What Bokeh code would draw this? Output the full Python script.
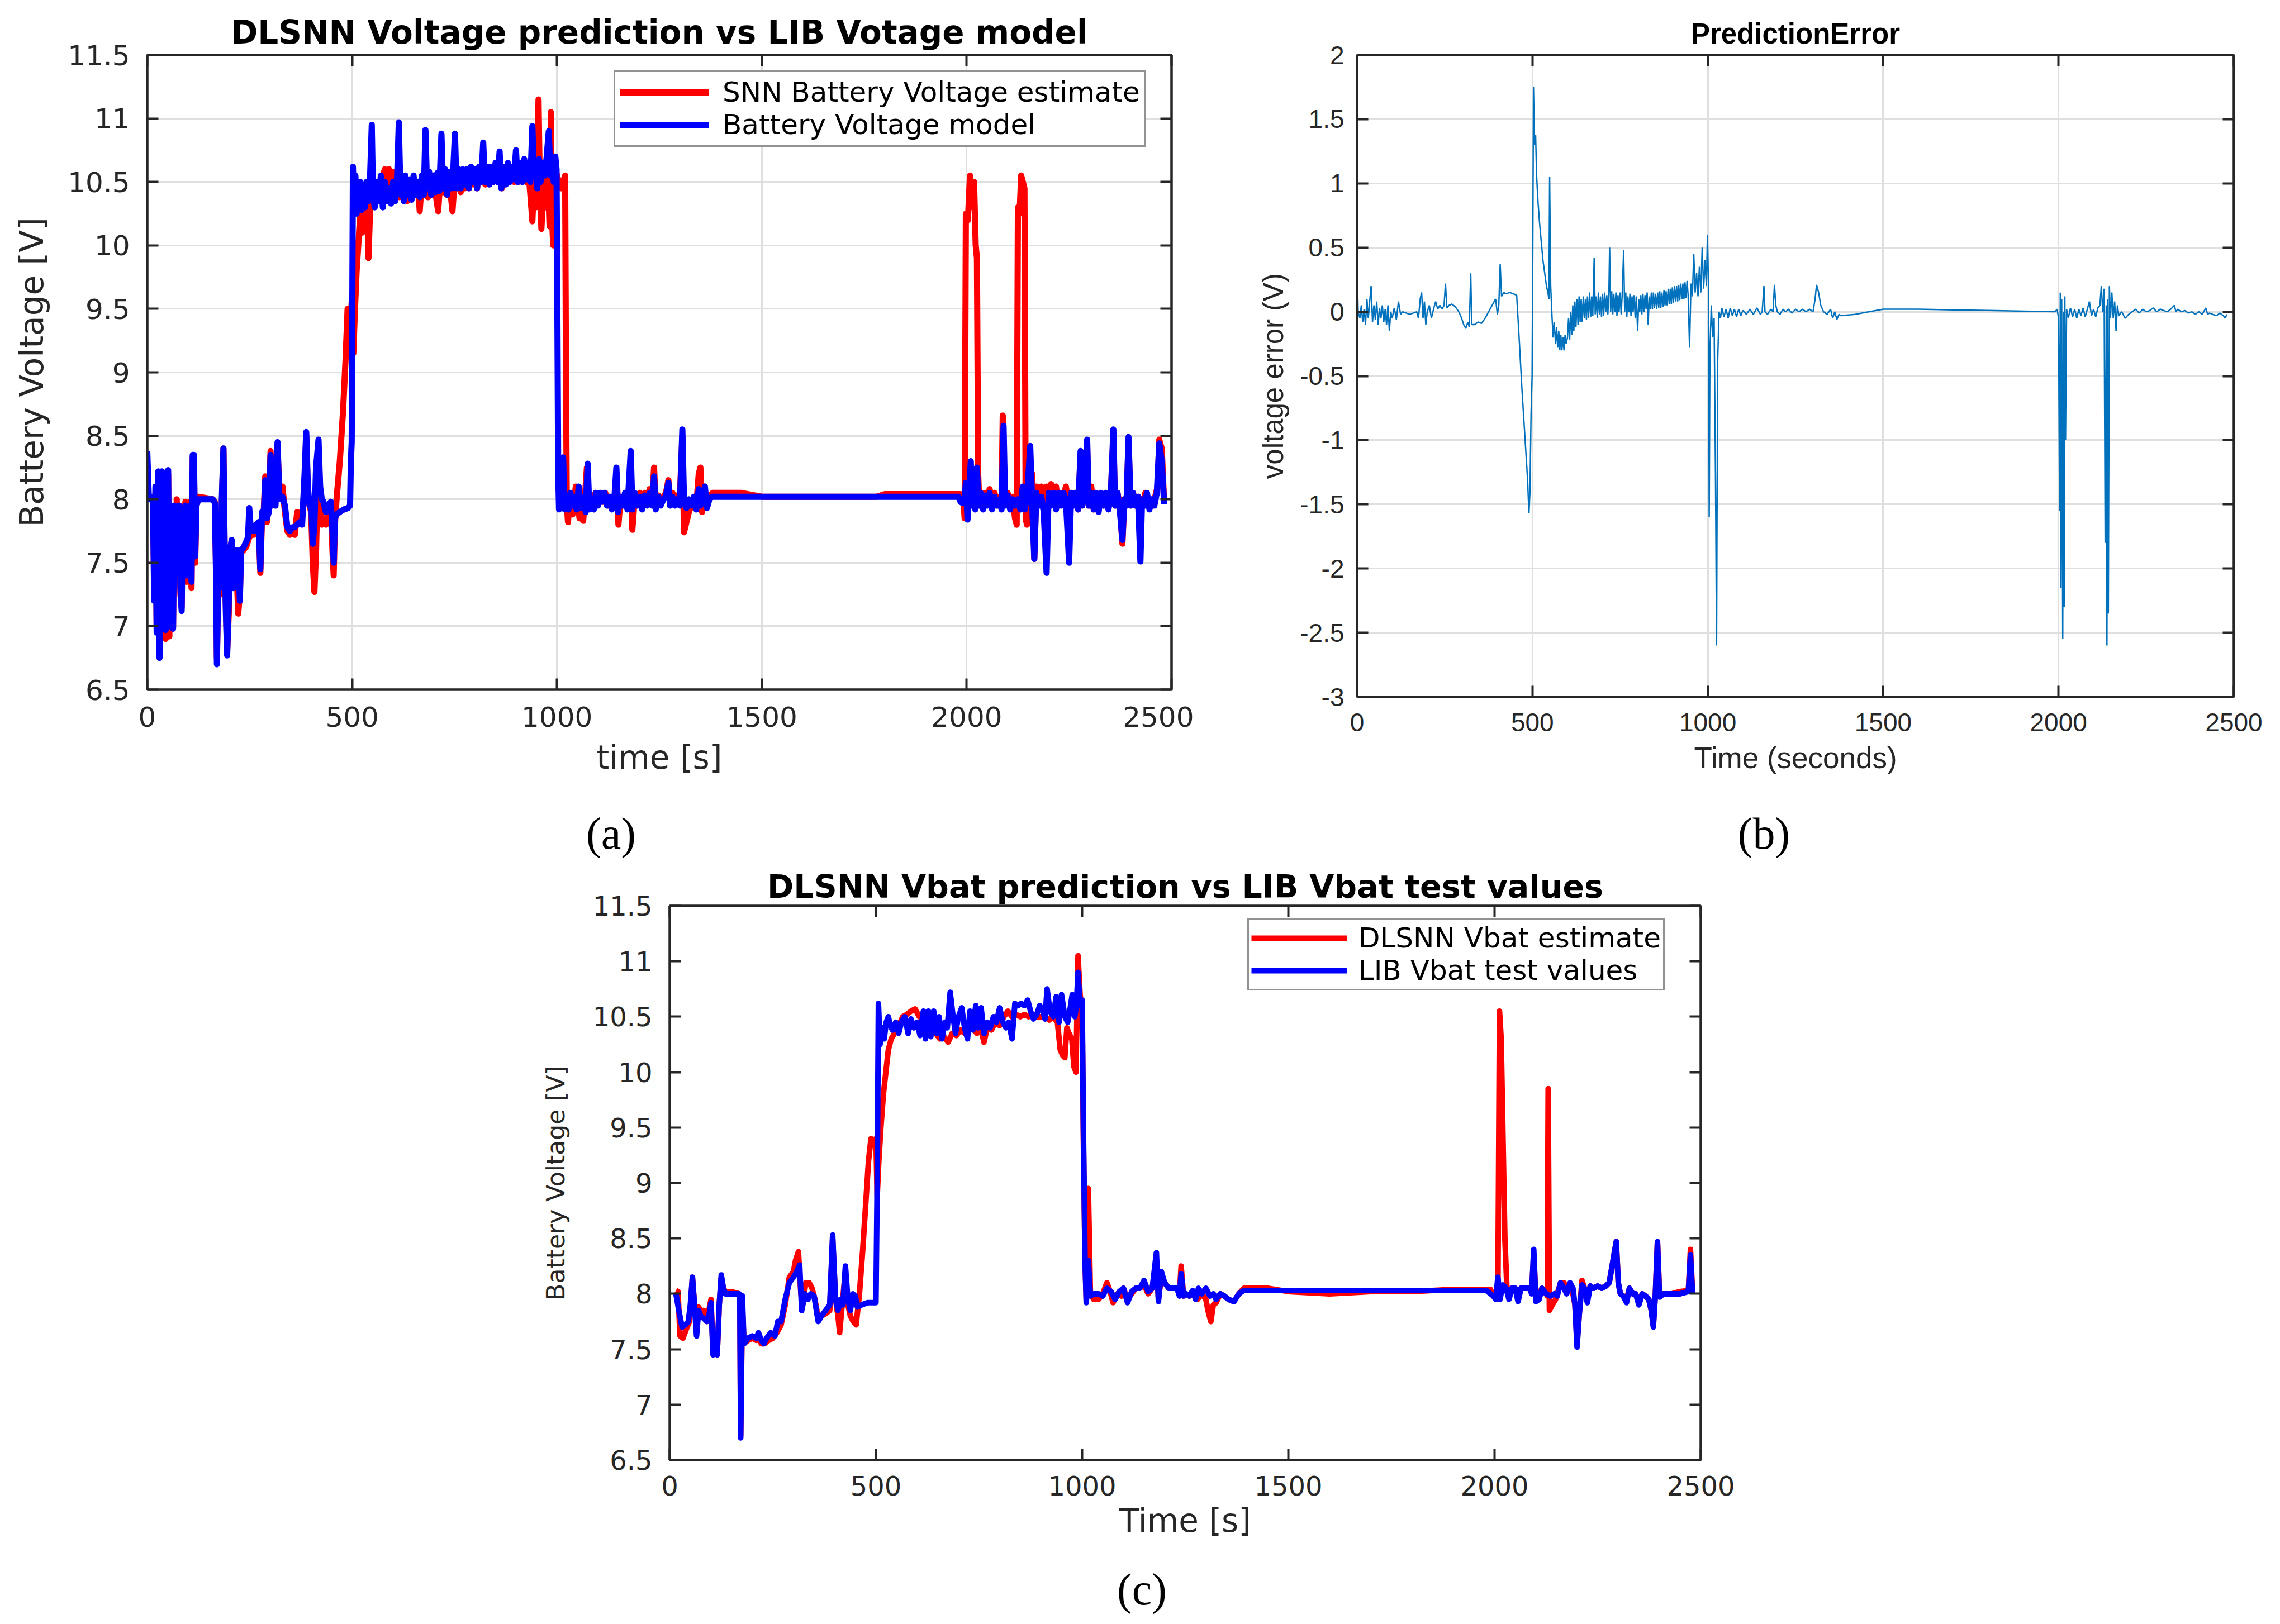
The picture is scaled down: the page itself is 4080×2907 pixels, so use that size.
from bokeh.plotting import figure
from bokeh.models import (FixedTicker, CustomJSTickFormatter, LinearAxis, Range1d,
                          Label, Legend, LegendItem, Spacer)
from bokeh.layouts import column, row
from bokeh.embed import file_html
from bokeh.resources import INLINE

# ---------------- data ----------------
X_TICKS = [0, 500, 1000, 1500, 2000, 2500]
Y_TICKS_V = [6.5, 7, 7.5, 8, 8.5, 9, 9.5, 10, 10.5, 11, 11.5]
Y_TICKS_E = [-3, -2.5, -2, -1.5, -1, -0.5, 0, 0.5, 1, 1.5, 2]

# (a) Battery Voltage model (blue)
a_mod_t = [0, 4, 10, 14, 17, 20, 23, 27, 30, 33, 36, 39, 42, 45, 48, 51, 54, 57, 60, 63, 66, 69, 72, 75, 78, 81, 84, 87, 90, 93, 96, 99, 102, 105, 108, 111, 114, 117, 120, 125, 160, 165, 168, 170, 174, 178, 182, 186, 189, 192, 195, 199, 203, 206, 210, 214, 218, 222, 226, 229, 235, 242, 246, 249, 253, 260, 266, 272, 276, 280, 284, 288, 292, 297, 301, 305, 309, 313, 318, 322, 326, 330, 336, 342, 348, 354, 360, 366, 372, 378, 384, 388, 392, 396, 400, 404, 408, 412, 418, 422, 426, 430, 436, 442, 448, 452, 455, 458, 462, 470, 480, 490, 495, 497, 499, 502, 505, 508, 511, 514, 517, 520, 523, 527, 531, 535, 540, 544, 548, 551, 555, 560, 565, 570, 575, 580, 585, 590, 595, 600, 605, 610, 614, 618, 622, 626, 630, 635, 640, 645, 650, 655, 660, 665, 670, 675, 679, 683, 688, 693, 698, 703, 708, 713, 718, 722, 727, 732, 737, 742, 747, 751, 755, 760, 765, 770, 775, 780, 785, 790, 795, 800, 805, 810, 815, 820, 824, 830, 835, 840, 845, 850, 855, 860, 864, 870, 875, 880, 885, 890, 895, 900, 904, 910, 915, 920, 925, 930, 935, 940, 944, 948, 952, 956, 960, 965, 970, 975, 980, 984, 988, 992, 996, 999, 1001, 1003, 1005, 1008, 1011, 1015, 1019, 1023, 1028, 1033, 1038, 1043, 1048, 1053, 1057, 1062, 1066, 1070, 1075, 1079, 1084, 1090, 1095, 1100, 1105, 1110, 1116, 1122, 1128, 1134, 1140, 1145, 1149, 1155, 1160, 1166, 1172, 1180, 1184, 1190, 1196, 1202, 1208, 1214, 1220, 1226, 1232, 1237, 1241, 1247, 1253, 1260, 1266, 1272, 1276, 1282, 1288, 1294, 1300, 1306, 1310, 1316, 1322, 1328, 1334, 1340, 1346, 1350, 1356, 1361, 1366, 1372, 1378, 1390, 1980, 1985, 1990, 1995, 1998, 2002, 2006, 2010, 2013, 2017, 2021, 2025, 2029, 2034, 2040, 2045, 2050, 2056, 2062, 2068, 2074, 2080, 2085, 2090, 2094, 2100, 2106, 2112, 2118, 2125, 2131, 2137, 2142, 2148, 2155, 2160, 2165, 2170, 2176, 2182, 2188, 2195, 2200, 2206, 2212, 2218, 2224, 2230, 2236, 2242, 2250, 2255, 2260, 2266, 2272, 2278, 2282, 2288, 2294, 2298, 2304, 2310, 2316, 2322, 2328, 2334, 2340, 2346, 2352, 2358, 2362, 2368, 2374, 2380, 2385, 2390, 2395, 2400, 2406, 2412, 2418, 2424, 2428, 2434, 2440, 2446, 2452, 2458, 2464, 2470, 2476, 2482]
a_mod_v = [8.38, 8.0, 8.02, 7.98, 7.2, 8.1, 6.95, 8.22, 6.75, 7.9, 8.22, 7.05, 8.2, 6.97, 7.8, 8.23, 7.0, 7.95, 7.2, 6.98, 7.95, 7.45, 7.9, 7.5, 7.95, 7.3, 7.12, 7.9, 7.55, 7.95, 7.4, 7.92, 7.5, 7.95, 7.35, 8.35, 8.35, 7.55, 7.95, 8.0, 8.0, 7.97, 7.4, 6.7, 7.5, 7.3, 8.0, 8.4, 7.6, 7.1, 6.77, 7.2, 7.62, 7.68, 7.3, 7.55, 7.6, 7.58, 7.2, 7.6, 7.62, 7.67, 7.7, 7.93, 7.75, 7.75, 7.8, 7.82, 7.45, 7.9, 7.85, 8.15, 7.85, 7.9, 8.35, 7.95, 8.2, 7.95, 8.45, 8.05, 8.0, 8.02, 7.95, 7.78, 7.75, 7.78, 7.78, 7.8, 7.82, 7.8, 8.2, 8.53, 8.1, 7.95, 8.0, 7.65, 7.8, 8.25, 8.47, 8.1, 8.0, 7.98, 7.9, 7.95, 7.98, 7.75, 7.5, 7.85, 7.88, 7.9, 7.92, 7.93, 7.95, 8.3, 8.45, 10.62, 10.3, 10.55, 10.25, 10.45, 10.3, 10.5, 10.28, 10.45, 10.3, 10.5, 10.35, 10.55, 10.95, 10.4, 10.3, 10.5, 10.35, 10.55, 10.3, 10.5, 10.35, 10.45, 10.33, 10.5, 10.35, 10.55, 10.97, 10.4, 10.5, 10.35, 10.55, 10.4, 10.52, 10.36, 10.55, 10.4, 10.5, 10.38, 10.55, 10.4, 10.91, 10.45, 10.58, 10.4, 10.55, 10.42, 10.57, 10.43, 10.88, 10.45, 10.6, 10.4, 10.58, 10.45, 10.6, 10.88, 10.45, 10.6, 10.45, 10.6, 10.48, 10.6, 10.45, 10.62, 10.5, 10.6, 10.45, 10.62, 10.5, 10.81, 10.5, 10.62, 10.48, 10.62, 10.5, 10.65, 10.5, 10.74, 10.45, 10.62, 10.48, 10.65, 10.5, 10.62, 10.52, 10.75, 10.5, 10.65, 10.5, 10.68, 10.52, 10.65, 10.5, 10.94, 10.55, 10.65, 10.45, 10.68, 10.5, 10.65, 10.55, 10.7, 10.9, 10.55, 10.68, 10.5, 10.7, 10.6, 9.5, 8.2, 7.92, 8.3, 7.95, 8.33, 7.92, 7.98, 7.92, 8.05, 7.95, 8.02, 7.92, 8.1, 7.93, 8.0, 8.02, 7.9, 8.28, 7.92, 8.0, 7.92, 8.05, 7.95, 8.05, 7.98, 8.05, 7.95, 8.02, 7.92, 8.0, 8.25, 7.9, 8.02, 7.95, 8.05, 7.92, 8.38, 7.92, 8.05, 7.95, 8.02, 7.92, 8.03, 7.95, 8.05, 7.95, 8.18, 7.92, 8.02, 7.95, 8.0, 8.03, 8.13, 7.95, 8.02, 7.95, 8.0, 7.95, 8.55, 8.0, 7.93, 8.0, 7.95, 8.02, 7.92, 8.08, 7.95, 8.0, 8.1, 7.93, 8.0, 8.02, 8.02, 8.02, 7.98, 7.97, 8.0, 8.13, 7.84, 8.05, 8.3, 7.95, 8.05, 7.92, 8.25, 7.95, 8.05, 7.92, 8.03, 7.95, 8.05, 7.92, 8.02, 7.95, 8.0, 7.92, 8.58, 7.95, 8.03, 7.92, 8.0, 7.95, 8.0, 7.92, 8.1, 7.92, 8.05, 8.42, 7.95, 7.53, 8.05, 7.95, 8.02, 7.9, 7.42, 8.05, 7.95, 8.05, 7.92, 8.05, 7.95, 8.05, 8.0, 7.5, 8.05, 7.95, 8.05, 7.92, 8.38, 7.95, 8.05, 8.47, 7.95, 8.05, 7.92, 8.05, 7.9, 8.05, 7.95, 8.05, 7.92, 8.05, 8.55, 7.95, 8.05, 7.9, 7.68, 8.0, 7.95, 8.49, 7.95, 8.05, 7.95, 8.02, 7.51, 8.0, 7.95, 8.05, 7.92, 8.0, 7.95, 8.05, 8.44, 8.3, 7.96]

# (a) SNN Battery Voltage estimate (red)
a_est_t = [0, 4, 10, 14, 17, 20, 23, 27, 30, 33, 36, 39, 42, 45, 48, 51, 54, 57, 60, 63, 66, 69, 72, 75, 78, 81, 84, 87, 90, 93, 96, 99, 102, 105, 108, 111, 114, 117, 120, 125, 160, 165, 168, 170, 174, 178, 182, 186, 189, 192, 195, 199, 203, 206, 210, 214, 218, 222, 226, 229, 235, 242, 246, 249, 253, 260, 266, 272, 276, 280, 284, 288, 292, 297, 301, 305, 309, 313, 318, 322, 326, 330, 336, 342, 348, 354, 360, 366, 372, 378, 384, 388, 392, 396, 400, 404, 408, 412, 418, 422, 426, 430, 436, 442, 448, 452, 455, 458, 462, 470, 478, 484, 489, 493, 497, 500, 503, 507, 511, 515, 520, 524, 528, 532, 536, 540, 544, 548, 552, 556, 560, 565, 570, 575, 580, 585, 590, 595, 600, 605, 610, 615, 620, 625, 630, 635, 640, 645, 650, 655, 660, 665, 670, 675, 680, 685, 690, 695, 700, 705, 710, 715, 720, 725, 730, 735, 740, 745, 750, 755, 760, 765, 770, 775, 780, 785, 790, 795, 800, 805, 810, 815, 820, 825, 830, 835, 840, 845, 850, 855, 860, 865, 870, 875, 880, 885, 890, 895, 900, 905, 910, 915, 920, 925, 930, 935, 940, 944, 948, 952, 955, 958, 962, 966, 970, 974, 978, 982, 985, 988, 991, 994, 997, 1000, 1005, 1010, 1015, 1020, 1022, 1024, 1027, 1030, 1034, 1038, 1042, 1046, 1050, 1055, 1060, 1064, 1068, 1073, 1078, 1083, 1088, 1094, 1100, 1106, 1112, 1118, 1124, 1130, 1136, 1142, 1146, 1150, 1155, 1162, 1168, 1174, 1180, 1184, 1190, 1196, 1202, 1208, 1214, 1220, 1226, 1232, 1237, 1241, 1247, 1253, 1260, 1266, 1272, 1276, 1282, 1288, 1294, 1300, 1306, 1310, 1316, 1322, 1328, 1334, 1340, 1346, 1350, 1354, 1360, 1366, 1372, 1380, 1450, 1500, 1780, 1800, 1985, 1992, 1995, 1998, 2003, 2008, 2012, 2015, 2018, 2022, 2025, 2028, 2031, 2035, 2040, 2045, 2050, 2056, 2062, 2068, 2074, 2080, 2085, 2088, 2093, 2100, 2106, 2112, 2118, 2122, 2125, 2129, 2133, 2137, 2141, 2144, 2147, 2152, 2157, 2160, 2165, 2170, 2176, 2182, 2188, 2195, 2200, 2206, 2212, 2218, 2224, 2230, 2236, 2242, 2250, 2255, 2260, 2266, 2272, 2278, 2282, 2288, 2294, 2298, 2304, 2310, 2316, 2322, 2328, 2334, 2340, 2346, 2352, 2358, 2362, 2368, 2374, 2380, 2385, 2390, 2395, 2400, 2406, 2412, 2418, 2424, 2430, 2436, 2442, 2448, 2454, 2460, 2466, 2470, 2476, 2482]
a_est_v = [8.02, 8.0, 8.02, 7.98, 7.3, 8.05, 7.0, 8.2, 6.8, 7.85, 8.2, 7.1, 8.15, 6.9, 7.75, 8.2, 6.92, 7.9, 7.1, 7.0, 7.9, 7.4, 8.0, 7.45, 7.95, 7.25, 7.15, 7.85, 7.5, 7.98, 7.35, 7.9, 7.45, 7.98, 7.3, 8.33, 8.3, 7.5, 7.95, 8.02, 8.0, 7.98, 7.45, 6.75, 7.45, 7.25, 7.95, 8.4, 7.55, 7.15, 6.8, 7.1, 7.55, 7.65, 7.35, 7.5, 7.45, 7.1, 7.25, 7.58, 7.6, 7.63, 7.67, 7.7, 7.72, 7.72, 7.75, 7.8, 7.42, 7.85, 7.88, 8.18, 7.82, 8.05, 8.38, 8.0, 8.3, 8.05, 8.4, 8.1, 8.08, 8.1, 7.9, 7.75, 7.72, 7.75, 7.72, 7.9, 7.85, 7.85, 8.1, 8.5, 8.05, 7.95, 7.9, 7.5, 7.27, 7.6, 8.4, 8.0, 7.8, 7.85, 7.8, 7.9, 7.95, 7.6, 7.4, 7.8, 8.0, 8.3, 8.7, 9.1, 9.5, 9.3, 9.45, 9.6, 9.15, 9.5, 9.8, 10.0, 10.25, 10.1, 10.35, 10.2, 10.4, 9.9, 10.3, 10.45, 10.35, 10.5, 10.35, 10.5, 10.38, 10.55, 10.6, 10.45, 10.6, 10.45, 10.58, 10.4, 10.5, 10.38, 10.5, 10.4, 10.5, 10.35, 10.52, 10.38, 10.5, 10.4, 10.5, 10.27, 10.5, 10.4, 10.52, 10.38, 10.5, 10.4, 10.55, 10.38, 10.27, 10.5, 10.42, 10.55, 10.4, 10.55, 10.42, 10.27, 10.5, 10.45, 10.58, 10.42, 10.55, 10.45, 10.58, 10.45, 10.6, 10.48, 10.58, 10.45, 10.6, 10.5, 10.6, 10.48, 10.6, 10.5, 10.62, 10.5, 10.6, 10.5, 10.62, 10.45, 10.6, 10.5, 10.6, 10.52, 10.62, 10.5, 10.62, 10.5, 10.62, 10.52, 10.6, 10.5, 10.6, 10.4, 10.19, 10.5, 10.3, 10.6, 11.15, 10.5, 10.13, 10.4, 10.55, 10.3, 10.5, 10.15, 11.05, 10.2, 10.0, 10.45, 10.6, 10.55, 10.5, 10.45, 10.5, 10.55, 9.0, 7.95, 7.82, 8.0, 7.95, 7.88, 8.0, 8.1, 8.02, 7.85, 8.05, 7.83, 8.0, 8.25, 7.95, 8.02, 7.95, 8.05, 7.98, 8.05, 7.98, 8.05, 7.95, 8.02, 7.95, 8.02, 8.2, 7.8, 8.0, 7.98, 8.05, 7.95, 8.33, 7.76, 8.02, 7.98, 8.05, 7.95, 8.05, 7.98, 8.08, 7.98, 8.25, 7.95, 8.03, 7.98, 8.02, 8.05, 8.15, 7.98, 8.05, 7.98, 8.03, 8.02, 8.5, 7.74, 7.82, 7.9, 7.95, 8.0, 7.95, 8.2, 8.25, 7.9, 8.1, 7.95, 8.02, 8.05, 8.05, 8.02, 8.02, 8.04, 8.04, 8.0, 7.85, 10.25, 10.2, 10.55, 10.45, 10.3, 10.5, 10.0, 9.9, 8.2, 7.95, 8.05, 7.95, 8.05, 8.0, 8.08, 7.95, 8.05, 7.95, 8.02, 7.95, 8.66, 8.0, 8.05, 7.95, 8.02, 7.85, 7.8, 10.3, 10.25, 10.55, 10.5, 10.45, 7.85, 7.8, 8.15, 7.95, 8.2, 7.53, 8.1, 7.95, 8.1, 7.95, 8.1, 8.05, 8.12, 8.0, 8.1, 7.95, 8.05, 8.0, 8.1, 7.95, 8.05, 7.95, 8.05, 7.92, 8.35, 7.95, 8.05, 8.42, 7.95, 8.1, 7.92, 8.05, 7.95, 8.05, 7.95, 8.05, 7.95, 8.05, 8.5, 7.95, 8.05, 7.95, 7.65, 8.0, 7.95, 8.45, 7.95, 8.05, 7.95, 8.02, 8.0, 7.95, 8.05, 7.95, 8.0, 7.95, 8.02, 8.1, 8.47, 8.4, 7.96]

# (b) Prediction error
b_t = [0, 3, 8, 12, 16, 20, 24, 28, 32, 36, 40, 44, 48, 52, 56, 60, 64, 68, 72, 76, 80, 84, 88, 92, 96, 100, 106, 112, 118, 124, 130, 150, 170, 175, 180, 184, 188, 192, 196, 200, 206, 212, 218, 224, 230, 236, 242, 248, 252, 256, 262, 270, 280, 290, 298, 304, 310, 316, 320, 324, 327, 335, 345, 355, 365, 375, 385, 395, 400, 404, 408, 412, 418, 425, 435, 445, 455, 462, 470, 478, 486, 490, 493, 496, 499, 501, 503, 506, 509, 512, 516, 520, 525, 530, 535, 540, 544, 547, 549, 552,
       556, 559, 562, 566, 569, 572, 575, 578, 581, 584, 587, 590, 593, 596,
       600, 603, 606, 609, 612, 615, 618, 621, 624, 627, 630, 633, 636, 639, 642, 645, 648, 651, 654, 657, 660, 663, 666, 669, 672, 676, 679, 682, 685, 688, 691, 694, 697, 700, 703, 706, 709, 712, 715, 718, 720, 723, 726, 729, 732, 735, 738, 741, 744, 747, 750, 753, 756, 760, 763, 766, 769, 772, 775, 778, 781, 784, 787, 790, 793, 796, 800, 803, 806, 809, 812, 815, 818, 821, 824, 827, 830, 833, 836, 839, 842, 845, 848, 851, 854, 857, 860, 863, 866, 869, 872, 875, 878, 881, 884, 887, 890, 893, 896, 899, 902, 905, 908, 911, 914, 917, 920, 923, 926, 929, 932, 935, 938, 941, 944, 948, 952, 956, 960, 964, 968, 972, 976, 980, 984, 988, 992, 996, 999,
       1002, 1004, 1006, 1010, 1014, 1018, 1022, 1025, 1028, 1032, 1036, 1040, 1046, 1052, 1058, 1064, 1070, 1076, 1082, 1088, 1094, 1100, 1110, 1120, 1130, 1140, 1150, 1155, 1160, 1163, 1170, 1180, 1186, 1190, 1194, 1198, 1206, 1214, 1222, 1230, 1240, 1250, 1260, 1270, 1280, 1290, 1300, 1306, 1310, 1316, 1322, 1330, 1340, 1350, 1356, 1362, 1368, 1374, 1380, 1420, 1460, 1500, 1600, 1700, 1800, 1900, 1990, 1996, 2000, 2003, 2005, 2007, 2009, 2012, 2014, 2016, 2018, 2020, 2023, 2028, 2034, 2040, 2046, 2052, 2058, 2064, 2070, 2076, 2082, 2088, 2094, 2100, 2106, 2112, 2118, 2122, 2126, 2130, 2133, 2136, 2138, 2140, 2142, 2145, 2148, 2152, 2156, 2160, 2164, 2168, 2172, 2180, 2190, 2200, 2210, 2220, 2230, 2240, 2250, 2260, 2270, 2280, 2290, 2300, 2310, 2320, 2330, 2335, 2340, 2350, 2360, 2370, 2380, 2390, 2400, 2410, 2420, 2425, 2430, 2440, 2450, 2460, 2470, 2475, 2480]
b_v = [0.35, 0.0, -0.05, 0.05, -0.08, 0.02, -0.1, 0.1, -0.05, 0.08, 0.2, -0.08, 0.05, -0.06, 0.08, -0.1, 0.03, -0.05, 0.05, -0.08, 0.02, -0.1, 0.05, -0.15, 0.0, -0.05, 0.03, -0.06, 0.08, -0.02, 0.0, -0.02, 0.0, -0.05, 0.1, 0.15, -0.05, 0.08, -0.1, 0.0, 0.05, -0.05, 0.02, 0.08, 0.02, 0.05, 0.02, 0.05, 0.22, 0.03, 0.05, 0.06, 0.04, 0.0, -0.05, -0.1, -0.13, -0.08, -0.12, 0.3, -0.1, -0.1, -0.08, -0.09, -0.05, 0.0, 0.05, 0.1, -0.02, 0.05, 0.37, 0.12, 0.15, 0.14, 0.15, 0.14, 0.13, -0.2, -0.6, -0.95, -1.3, -1.57, -1.4, -0.8, -0.5, 0.5, 1.75, 1.3, 1.38, 1.05, 0.85, 0.7, 0.55, 0.4, 0.3, 0.2, 0.15, 0.1, 1.05, 0.2,
       -0.05, -0.2, -0.08, -0.25, -0.12, -0.28, -0.15, -0.3, -0.18, -0.3, -0.2, -0.3, -0.18, -0.25,
       -0.2, -0.05, -0.22, 0.0, -0.18, 0.05, -0.15, 0.08, -0.12, 0.1, -0.1, 0.12, -0.08, 0.1, -0.08, 0.12, -0.05, 0.1, -0.06, 0.12, -0.05, 0.15, -0.04, 0.12, -0.03, 0.42, -0.02, 0.12, -0.05, 0.15, -0.02, 0.12, -0.04, 0.14, -0.03, 0.15, 0.0, 0.13, -0.02, 0.15, 0.5, 0.0, 0.16, -0.02, 0.14, 0.0, 0.15, -0.03, 0.13, 0.0, 0.15, -0.02, 0.14, 0.48, 0.0, 0.15, -0.04, 0.12, 0.0, 0.14, -0.03, 0.12, 0.0, 0.13, -0.05, 0.12, -0.15, 0.1, 0.0, 0.13, -0.02, 0.14, 0.0, 0.13, 0.02, 0.15, -0.1, 0.12, 0.02, 0.15, 0.02, 0.15, 0.03, 0.14, 0.02, 0.15, 0.03, 0.16, 0.03, 0.15, 0.04, 0.17, 0.05, 0.16, 0.05, 0.18, 0.06, 0.18, 0.06, 0.19, 0.07, 0.2, 0.08, 0.2, 0.08, 0.21, 0.09, 0.22, 0.1, 0.22, 0.1, 0.23, 0.11, 0.24, 0.12, -0.28, 0.22, 0.12, 0.45, 0.15, 0.3, 0.12, 0.35, 0.15, 0.5, 0.18, 0.4, 0.2, 0.6,
       0.2, -1.6, -0.3, 0.05, -0.2, -0.05, -1.3, -2.6, -0.4, 0.0, -0.05, 0.03, -0.04, 0.02, -0.05, 0.03, -0.03, 0.02, -0.04, 0.02, -0.03, 0.01, -0.02, 0.02, -0.02, 0.03, -0.02, 0.0, 0.2, 0.0, -0.02, 0.02, 0.0, 0.21, 0.05, 0.0, -0.02, 0.02, 0.0, 0.02, -0.01, 0.02, 0.0, 0.02, 0.0, 0.02, 0.0, 0.1, 0.21, 0.15, 0.05, 0.0, -0.02, 0.02, -0.05, 0.0, -0.06, -0.02, -0.03, -0.02, 0.0, 0.02, 0.02, 0.015, 0.01, 0.005, 0.0, 0.02, -0.05, -1.55, 0.15, -2.15, 0.1, -2.55, 0.0, -2.3, 0.12, -1.0, 0.02, -0.05, 0.03, -0.04, 0.02, -0.05, 0.02, -0.03, 0.03, -0.04, 0.02, 0.08, -0.03, 0.02, -0.04, 0.03, 0.05, 0.2, 0.0, 0.18, -1.8, 0.05, -2.6, 0.1, -2.35, 0.2, -0.05, 0.15, -0.05, 0.08, -0.15, 0.05, -0.03, 0.0, -0.05, -0.02, 0.0, 0.02, -0.01, 0.02, 0.0, 0.01, 0.03, 0.0, 0.02, 0.01, 0.0, 0.02, 0.05, 0.0, 0.02, 0.0, 0.01, -0.01, 0.0, -0.02, 0.0, -0.02, 0.03, -0.02, -0.01, -0.02, -0.03, -0.01, -0.03, -0.05, -0.02]

# (c) LIB Vbat test values (blue)
c_test_t = [15, 22, 30, 38, 45, 50, 55, 60, 65, 70, 75, 82, 90, 95, 100, 105, 110, 115, 120, 125, 130, 135, 150, 168, 170, 172, 176, 180, 190, 200, 210, 215, 222, 228, 235, 245, 255, 262, 270, 280, 290, 300, 308, 315, 320, 328, 335, 342, 350, 360, 368, 378, 388, 395, 402, 408, 414, 420, 426, 432, 438, 444, 450, 455, 465, 480, 500, 503, 506, 510, 515, 520, 525, 530, 535, 540, 548, 555, 562, 570, 578, 585, 592, 600, 607, 615, 620, 627, 633, 640, 647, 653, 660, 667, 673, 680, 687, 693, 700, 708, 715, 722, 728, 735, 742, 748, 755, 762, 770, 777, 785, 792, 800, 808, 815, 822, 830, 837, 845, 852, 860, 868, 875, 882, 890, 897, 905, 910, 915, 922, 930, 937, 944, 950, 958, 965, 970, 976, 982, 986, 990, 995, 1000, 1003, 1007, 1010, 1015, 1020, 1028, 1040, 1050, 1060, 1070, 1080, 1090, 1100, 1110, 1120, 1130, 1140, 1150, 1160, 1170, 1180, 1185, 1192, 1200, 1210, 1220, 1230, 1236, 1240, 1246, 1252, 1260, 1268, 1275, 1282, 1290, 1300, 1310, 1318, 1325, 1335, 1345, 1355, 1368, 1380, 1392, 1980, 1990, 1997, 2003, 2008, 2013, 2020, 2028, 2035, 2042, 2050, 2057, 2064, 2075, 2085, 2090, 2095, 2100, 2108, 2115, 2125, 2135, 2145, 2152, 2160, 2168, 2175, 2183, 2190, 2195, 2200, 2205, 2212, 2218, 2225, 2232, 2240, 2250, 2260, 2270, 2278, 2285, 2295, 2300, 2305, 2312, 2320, 2327, 2335, 2342, 2350, 2358, 2366, 2374, 2380, 2385, 2390, 2395, 2400, 2410, 2430, 2450, 2470, 2475, 2480]
c_test_v = [8.0, 7.85, 7.7, 7.72, 7.75, 7.9, 8.15, 7.9, 7.62, 7.85, 7.8, 7.78, 7.75, 7.8, 7.92, 7.45, 7.6, 7.45, 7.9, 8.17, 8.05, 8.0, 8.0, 8.0, 7.95, 6.7, 7.98, 7.55, 7.6, 7.62, 7.6, 7.65, 7.58, 7.55, 7.6, 7.65, 7.62, 7.75, 7.75, 7.95, 8.1, 8.15, 8.2, 8.26, 7.85, 8.0, 7.95, 8.0, 7.98, 7.75, 7.8, 7.85, 7.9, 8.53, 7.95, 7.85, 7.95, 7.9, 8.25, 7.95, 7.85, 8.0, 7.98, 7.88, 7.9, 7.92, 7.92, 9.0, 10.62, 10.25, 10.4, 10.3, 10.45, 10.5, 10.42, 10.38, 10.45, 10.35, 10.45, 10.5, 10.35, 10.48, 10.4, 10.45, 10.33, 10.55, 10.3, 10.55, 10.32, 10.55, 10.35, 10.5, 10.3, 10.45, 10.4, 10.72, 10.5, 10.35, 10.5, 10.58, 10.4, 10.3, 10.55, 10.38, 10.6, 10.4, 10.58, 10.35, 10.45, 10.4, 10.5, 10.45, 10.58, 10.45, 10.4, 10.45, 10.3, 10.62, 10.6, 10.62, 10.6, 10.65, 10.55, 10.48, 10.52, 10.6, 10.55, 10.48, 10.75, 10.55, 10.5, 10.68, 10.45, 10.7, 10.5, 10.45, 10.55, 10.7, 10.5, 10.6, 10.9, 10.6, 10.65, 9.5, 8.3, 7.92, 8.3, 7.98, 8.0, 8.0, 7.98, 8.05, 8.02, 7.95, 8.02, 8.05, 7.92, 8.02, 8.05, 8.05, 8.12, 8.02, 8.05, 8.37, 7.93, 8.2, 8.1, 8.05, 8.05, 8.05, 7.98, 8.18, 7.98, 8.0, 7.98, 8.03, 7.95, 8.05, 8.0, 8.05, 7.98, 8.0, 7.95, 8.0, 7.98, 7.95, 7.93, 8.0, 8.03, 8.03, 8.0, 7.98, 7.95, 8.15, 7.95, 8.08, 8.05, 7.95, 8.05, 8.05, 7.93, 8.05, 8.05, 8.05, 8.0, 8.4, 7.93, 7.95, 8.05, 8.0, 7.98, 8.0, 7.98, 8.1, 8.05, 8.0, 8.1, 8.05, 7.9, 7.52, 7.8, 8.08, 8.05, 7.92, 8.07, 8.05, 8.07, 8.05, 8.07, 8.1, 8.25, 8.47, 8.1, 8.0, 7.98, 7.92, 8.05, 8.0, 8.0, 7.9, 8.0, 7.98, 7.95, 7.85, 7.7, 8.0, 8.47, 7.97, 8.0, 8.0, 8.0, 8.02, 8.35, 8.0]

# (c) DLSNN Vbat estimate (red)
c_est_t = [15, 20, 25, 32, 40, 48, 55, 60, 65, 70, 75, 82, 90, 95, 100, 105, 110, 115, 120, 125, 130, 135, 150, 168, 170, 172, 176, 180, 190, 200, 210, 215, 222, 230, 240, 250, 260, 270, 280, 290, 300, 305, 312, 318, 322, 330, 338, 345, 352, 360, 368, 378, 388, 395, 402, 408, 412, 418, 426, 432, 438, 445, 452, 460, 468, 475, 482, 488, 495, 500, 503, 507, 512, 518, 524, 530, 537, 545, 555, 565, 575, 585, 595, 605, 615, 625, 635, 645, 655, 665, 675, 685, 695, 705, 715, 725, 735, 745, 755, 762, 770, 780, 790, 800, 810, 820, 830, 840, 850, 860, 870, 880, 890, 900, 910, 920, 930, 940, 947, 953, 958, 963, 968, 975, 980, 985, 990, 995, 1000, 1003, 1007, 1010, 1015, 1020, 1028, 1040, 1050, 1060, 1068, 1075, 1085, 1095, 1100, 1110, 1120, 1130, 1140, 1150, 1160, 1170, 1180, 1185, 1192, 1200, 1210, 1220, 1230, 1236, 1240, 1246, 1252, 1260, 1270, 1280, 1290, 1300, 1305, 1312, 1318, 1325, 1335, 1345, 1355, 1368, 1380, 1392, 1450, 1500, 1600, 1700, 1800, 1900, 1990, 1997, 2003, 2008, 2012, 2016, 2020, 2025, 2030, 2035, 2042, 2050, 2057, 2064, 2075, 2085, 2090, 2095, 2100, 2108, 2115, 2125, 2128, 2130, 2133, 2140, 2148, 2160, 2168, 2175, 2183, 2190, 2195, 2200, 2205, 2212, 2218, 2225, 2232, 2240, 2250, 2260, 2270, 2278, 2285, 2295, 2300, 2305, 2312, 2320, 2327, 2335, 2342, 2350, 2358, 2366, 2374, 2380, 2385, 2390, 2395, 2400, 2410, 2430, 2450, 2470, 2475, 2480]
c_est_v = [8.03, 8.02, 7.62, 7.6, 7.68, 7.75, 8.15, 7.9, 7.72, 7.88, 7.85, 7.85, 7.75, 7.85, 7.95, 7.48, 7.6, 7.45, 7.9, 8.15, 8.05, 8.02, 8.02, 8.0, 7.95, 6.72, 7.9, 7.55, 7.58, 7.6, 7.58, 7.6, 7.55, 7.55, 7.58, 7.6, 7.65, 7.72, 7.9, 8.15, 8.2, 8.3, 8.38, 8.0, 7.9, 8.1, 8.1, 8.05, 7.95, 7.78, 7.8, 7.82, 7.85, 8.5, 7.95, 7.8, 7.65, 7.9, 8.2, 7.9, 7.8, 7.75, 7.72, 8.0, 8.4, 8.8, 9.2, 9.4, 9.38, 9.4, 8.88, 9.2, 9.5, 9.8, 10.0, 10.2, 10.3, 10.35, 10.42, 10.5, 10.52, 10.55, 10.57, 10.5, 10.5, 10.45, 10.4, 10.35, 10.3, 10.32, 10.27, 10.35, 10.33, 10.38, 10.35, 10.38, 10.4, 10.35, 10.38, 10.27, 10.4, 10.38, 10.45, 10.42, 10.5, 10.55, 10.5, 10.52, 10.5, 10.52, 10.5, 10.52, 10.5, 10.5, 10.5, 10.47, 10.5, 10.45, 10.2, 10.15, 10.13, 10.4, 10.35, 10.3, 10.05, 10.0, 11.05, 10.7, 10.55, 9.4, 8.3, 7.95, 8.95, 8.0, 7.95, 7.95, 8.0, 8.1, 8.02, 7.92, 8.0, 7.98, 8.05, 7.95, 8.0, 8.05, 8.05, 8.08, 8.0, 8.05, 8.3, 7.95, 8.15, 8.1, 8.05, 8.05, 8.05, 8.0, 8.25, 7.98, 8.0, 7.98, 8.0, 7.95, 8.0, 7.95, 7.85, 7.75, 7.9, 7.92, 8.0, 7.98, 7.95, 7.93, 8.0, 8.05, 8.05, 8.02, 8.0, 8.02, 8.02, 8.04, 8.04, 7.98, 7.95, 7.98, 10.55, 10.3, 9.5, 8.5, 8.05, 7.98, 8.05, 8.05, 7.95, 8.05, 8.05, 8.05, 8.02, 8.35, 7.98, 8.0, 8.05, 8.0, 7.98, 9.85, 7.85, 7.9, 7.95, 8.1, 8.1, 8.05, 8.05, 8.0, 7.9, 7.55, 7.8, 8.12, 8.05, 7.95, 8.07, 8.05, 8.07, 8.05, 8.07, 8.1, 8.25, 8.47, 8.1, 8.0, 7.98, 7.95, 8.05, 8.0, 8.0, 7.92, 8.0, 7.98, 7.95, 7.85, 7.72, 8.0, 8.47, 8.0, 8.0, 8.0, 8.02, 8.03, 8.4, 8.02]

TITLE_A = "DLSNN Voltage prediction vs LIB Votage model"
TITLE_B = "PredictionError"
TITLE_C = "DLSNN Vbat prediction vs LIB Vbat test values"
TAGS = ["(a)", "(b)", "(c)"]

# ---------------- styling helpers ----------------
FRAME = "#262626"
GRID = "#dfdfdf"
SERIF = "Liberation Serif"


def make_fig(fw, fh, bl, br, bt, bb, yr, yticks, title, tfont, tsize, tstand,
             xlabel, ylabel, lfont, xlsize, ylsize, font, fsize, grid,
             xstand, ystand, xls, yls):
    p = figure(frame_width=fw, frame_height=fh,
               min_border_left=bl, min_border_right=br,
               min_border_top=bt, min_border_bottom=bb,
               x_range=Range1d(0, 2500), y_range=Range1d(yr[0], yr[1]),
               output_backend="svg", toolbar_location=None,
               background_fill_color="white", border_fill_color="white")
    p.title.text = title
    p.title.align = "center"
    p.title.text_font = tfont
    p.title.text_font_size = tsize
    p.title.text_font_style = "bold"
    p.title.text_color = "black"
    p.title.standoff = tstand

    xt = FixedTicker(ticks=X_TICKS)
    yt = FixedTicker(ticks=yticks)
    fmt = CustomJSTickFormatter(code="return tick.toString();")

    def style(ax, labelled, lsize=None):
        ax.axis_line_color = FRAME
        ax.axis_line_width = 4
        ax.major_tick_line_color = FRAME
        ax.major_tick_line_width = 4
        ax.major_tick_in = 20
        ax.major_tick_out = 0
        ax.minor_tick_line_color = None
        ax.major_label_text_color = FRAME
        ax.major_label_text_font = font
        if labelled:
            ax.major_label_text_font_size = fsize
            ax.axis_label_text_font = lfont
            ax.axis_label_text_font_size = lsize
            ax.axis_label_text_font_style = "normal"
            ax.axis_label_text_color = FRAME
        else:
            ax.major_label_text_font_size = "1px"
            ax.major_label_standoff = 0

    xa = p.xaxis[0]
    xa.ticker = xt
    xa.formatter = fmt
    xa.axis_label = xlabel
    style(xa, True, xlsize)
    xa.major_label_standoff = xstand
    xa.axis_label_standoff = xls

    ya = p.yaxis[0]
    ya.ticker = yt
    ya.formatter = fmt
    ya.axis_label = ylabel
    style(ya, True, ylsize)
    ya.major_label_standoff = ystand
    ya.axis_label_standoff = yls

    blank = CustomJSTickFormatter(code="return '';")
    top = LinearAxis(ticker=xt, formatter=blank)
    style(top, False)
    p.add_layout(top, "above")
    right = LinearAxis(ticker=yt, formatter=blank)
    style(right, False)
    p.add_layout(right, "right")

    p.xgrid.ticker = xt
    p.ygrid.ticker = yt
    if grid:
        p.grid.grid_line_color = GRID
        p.grid.grid_line_width = 3
    else:
        p.grid.grid_line_color = None

    p.outline_line_color = FRAME
    p.outline_line_width = 4
    p.outline_line_alpha = 1.0
    return p


def make_tag(text, w, h, ty):
    """A small blank canvas holding a sub-figure caption such as '(a)'."""
    t = figure(frame_width=w, frame_height=h, min_border=0,
               x_range=Range1d(0, w), y_range=Range1d(0, h),
               x_axis_location=None, y_axis_location=None,
               output_backend="svg", toolbar_location=None,
               background_fill_color="white", border_fill_color="white")
    t.outline_line_color = None
    t.grid.visible = False
    t.add_layout(Label(x=w / 2, y=ty, text=text, text_align="center",
                       text_baseline="middle", text_font=SERIF,
                       text_font_size="80px", text_color="black"))
    return t


def add_legend(p, items, loc, font, fsize, gw, gh, lh, pad, spacing, stand):
    leg = Legend(items=items, location=loc, label_text_font=font,
                 label_text_font_size=fsize, label_text_color="black",
                 glyph_width=gw, glyph_height=gh, label_height=lh,
                 padding=pad, spacing=spacing, label_standoff=stand,
                 margin=0, border_line_color=FRAME, border_line_width=3,
                 background_fill_color="white", background_fill_alpha=1.0)
    p.add_layout(leg)


# ---------------- (a) ----------------
pa = make_fig(1833, 1136, 263, 40, 98, 190, (6.5, 11.5), Y_TICKS_V, TITLE_A,
              "DejaVu Sans", "58px", 14,
              "time [s]", "Battery Voltage [V]", "DejaVu Sans", "58px", "58px",
              "DejaVu Sans", "50px", True, 30, 31, 18, 27)
ra1 = pa.line(a_est_t, a_est_v, line_color="#ff0000", line_width=11, line_join="round")
ra2 = pa.line(a_mod_t, a_mod_v, line_color="#0000ff", line_width=11, line_join="round")
add_legend(pa, [LegendItem(label="SNN Battery Voltage estimate", renderers=[ra1]),
                LegendItem(label="Battery Voltage model", renderers=[ra2])],
           (835, 971), "DejaVu Sans", "50px", 160, 40, 40, 8, 0, 24)

# ---------------- (b) ----------------
pb = make_fig(1569, 1149, 292, 60, 93, 182, (-3, 2), Y_TICKS_E, TITLE_B,
              "Liberation Sans", "51px", 19,
              "Time (seconds)", "voltage error (V)", "Liberation Sans", "53px", "51px",
              "Liberation Sans", "46px", True, 29, 23, 15, 16)
pb.line(b_t, b_v, line_color="#0072bd", line_width=2.5)

# ---------------- (c) ----------------
pc = make_fig(1845, 992, 290, 100, 76, 170, (6.5, 11.5), Y_TICKS_V, TITLE_C,
              "DejaVu Sans", "57px", 4,
              "Time [s]", "Battery Voltage [V]", "DejaVu Sans", "58px", "44px",
              "DejaVu Sans", "48px", False, 28, 31, 8, 38)
rc1 = pc.line(c_est_t, c_est_v, line_color="#ff0000", line_width=10, line_join="round")
rc2 = pc.line(c_test_t, c_test_v, line_color="#0000ff", line_width=10, line_join="round")
add_legend(pc, [LegendItem(label="DLSNN Vbat estimate", renderers=[rc1]),
                LegendItem(label="LIB Vbat test values", renderers=[rc2])],
           (1034, 840), "DejaVu Sans", "50px", 172, 40, 40, 4, 0, 20)

# ---------------- captions ----------------
tag_a = make_tag(TAGS[0], 200, 121, 54)
tag_b = make_tag(TAGS[1], 200, 121, 54)
tag_c = make_tag(TAGS[2], 200, 120, 59)

layout = column(
    row(pa, pb),
    row(Spacer(width=993, height=121), tag_a, Spacer(width=1863, height=121), tag_b),
    row(Spacer(width=908, height=10), pc),
    row(Spacer(width=1943, height=120), tag_c),
)
open("out.html", "w").write(file_html(layout, INLINE))
